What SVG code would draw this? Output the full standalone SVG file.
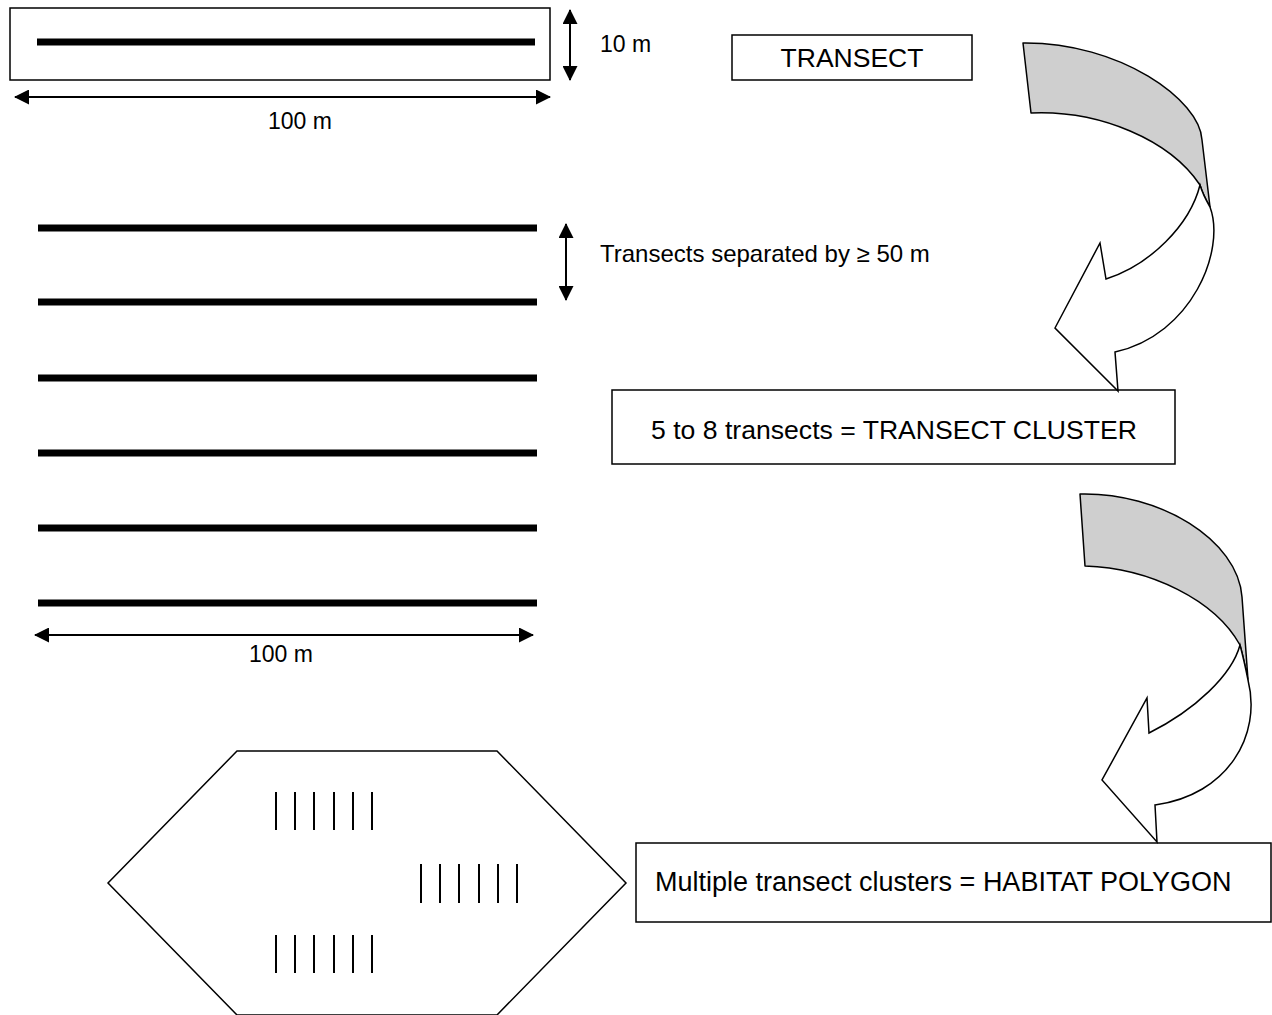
<svg xmlns="http://www.w3.org/2000/svg" width="1272" height="1015" viewBox="0 0 1272 1015">
<defs>
<marker id="ah" markerWidth="15" markerHeight="15" viewBox="0 0 15 15" refX="14" refY="7.5" orient="auto-start-reverse" markerUnits="userSpaceOnUse">
<path d="M0,0 L15,7.5 L0,15 Z" fill="#000"/>
</marker>
</defs>
<style>
.box{fill:#fff;stroke:#000;stroke-width:1.5}
.thick{stroke:#000;stroke-width:7}
.dim{stroke:#000;stroke-width:2;fill:none;marker-start:url(#ah);marker-end:url(#ah)}
.tick{stroke:#000;stroke-width:2}
.t{font-family:"Liberation Sans",Arial,sans-serif;fill:#000}
.lbl{font-size:23px}
.lbl2{font-size:24px}
.big{font-size:27px}
.back{fill:#cfcfcf;stroke:#000;stroke-width:1.5;stroke-linejoin:round}
.front{fill:#fff;stroke:#000;stroke-width:1.5;stroke-linejoin:miter}
</style>
<rect width="1272" height="1015" fill="#fff"/>

<g id="transect">
<rect class="box" x="10" y="8" width="540" height="72"/>
<line class="thick" x1="37" y1="42" x2="535" y2="42"/>
</g>

<g id="transect-label">
<rect class="box" x="732" y="35" width="240" height="45"/>
<text class="t" x="852" y="67" text-anchor="middle" font-size="26.5">TRANSECT</text>
</g>

<g id="cluster">
<line class="thick" x1="38" y1="228" x2="537" y2="228"/>
<line class="thick" x1="38" y1="302" x2="537" y2="302"/>
<line class="thick" x1="38" y1="378" x2="537" y2="378"/>
<line class="thick" x1="38" y1="453" x2="537" y2="453"/>
<line class="thick" x1="38" y1="528" x2="537" y2="528"/>
<line class="thick" x1="38" y1="603" x2="537" y2="603"/>
</g>

<g id="cluster-label">
<rect class="box" x="612" y="390" width="563" height="74"/>
<text class="t" x="894" y="439" text-anchor="middle" font-size="26.6">5 to 8 transects = TRANSECT CLUSTER</text>
</g>

<g id="polygon">
<polygon class="box" points="237,751 497,751 626,883 497,1015 237,1015 108,883"/>
<g>
<line class="tick" x1="276" y1="792" x2="276" y2="830"/>
<line class="tick" x1="295" y1="792" x2="295" y2="830"/>
<line class="tick" x1="314" y1="792" x2="314" y2="830"/>
<line class="tick" x1="334" y1="792" x2="334" y2="830"/>
<line class="tick" x1="353" y1="792" x2="353" y2="830"/>
<line class="tick" x1="372" y1="792" x2="372" y2="830"/>
</g>
<g>
<line class="tick" x1="421" y1="864" x2="421" y2="903"/>
<line class="tick" x1="440" y1="864" x2="440" y2="903"/>
<line class="tick" x1="459" y1="864" x2="459" y2="903"/>
<line class="tick" x1="479" y1="864" x2="479" y2="903"/>
<line class="tick" x1="498" y1="864" x2="498" y2="903"/>
<line class="tick" x1="517" y1="864" x2="517" y2="903"/>
</g>
<g>
<line class="tick" x1="276" y1="935" x2="276" y2="973"/>
<line class="tick" x1="295" y1="935" x2="295" y2="973"/>
<line class="tick" x1="314" y1="935" x2="314" y2="973"/>
<line class="tick" x1="334" y1="935" x2="334" y2="973"/>
<line class="tick" x1="353" y1="935" x2="353" y2="973"/>
<line class="tick" x1="372" y1="935" x2="372" y2="973"/>
</g>
</g>

<g id="polygon-label">
<rect class="box" x="636" y="843" width="635" height="79"/>
<text class="t big" x="655" y="891">Multiple transect clusters = HABITAT POLYGON</text>
</g>

<g id="connectors">
<line class="dim" x1="570" y1="10" x2="570" y2="80"/>
<text class="t lbl" x="600" y="52">10 m</text>
<line class="dim" x1="15" y1="97" x2="550" y2="97"/>
<text class="t lbl" x="300" y="129" text-anchor="middle">100 m</text>

<line class="dim" x1="566" y1="224" x2="566" y2="300"/>
<text class="t lbl2" x="600" y="262">Transects separated by ≥ 50 m</text>

<line class="dim" x1="35" y1="635" x2="533" y2="635"/>
<text class="t lbl" x="281" y="662" text-anchor="middle">100 m</text>

<g id="curved-arrow-1">
<path class="back" d="M1023,43 C1120,42 1200,100 1202,140 L1210,207 Q1203,195 1200,185 C1170,140 1100,110 1031,113 Z"/>
<path class="front" d="M1200,185 Q1203,195 1210,207 C1226,250 1192,335 1115,352 L1118,391 L1055,328 L1100,243 L1106,279 C1150,265 1190,225 1200,185 Z"/>
</g>
<g id="curved-arrow-2">
<path class="back" d="M1080,494 C1160,492 1238,540 1242,597 L1248,680 Q1244,660 1240,645 C1215,600 1150,568 1085,566 Z"/>
<path class="front" d="M1240,645 Q1244,660 1248,680 C1262,735 1228,795 1155,805 L1157,842 L1102,780 L1147,698 L1149,733 C1195,710 1232,675 1240,645 Z"/>
</g>
</g>
</svg>
